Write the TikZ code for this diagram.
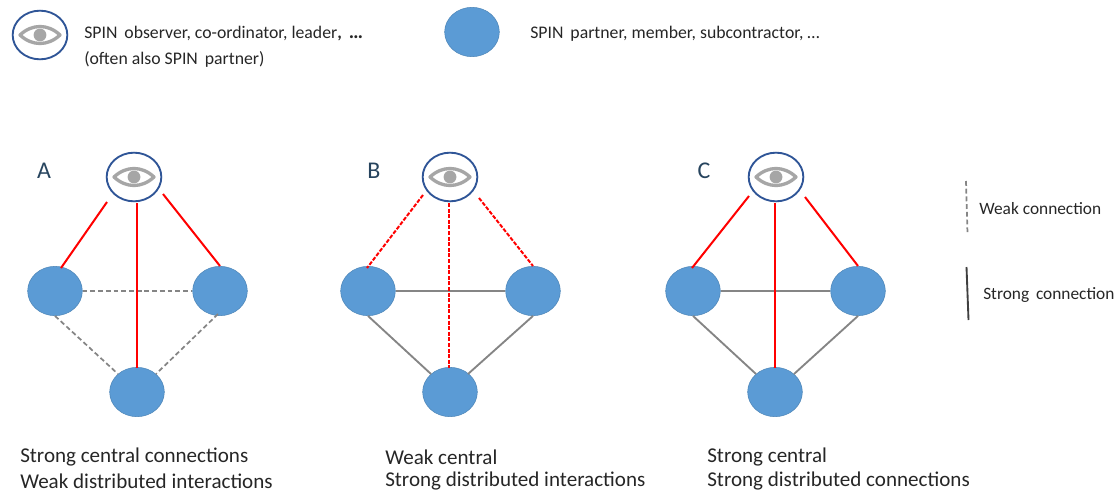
\documentclass[tikz,border=0pt]{standalone}
\usepackage{fontspec}
\setmainfont{Carlito}
\usetikzlibrary{shapes.geometric}
\definecolor{blueF}{HTML}{5B9BD5}
\definecolor{blueE}{HTML}{41719C}
\definecolor{ringC}{HTML}{2F5597}
\definecolor{eyeC}{HTML}{A6A6A6}
\definecolor{lineG}{HTML}{858585}
\definecolor{txtC}{HTML}{262626}
\tikzset{
 x=0.75pt,y=-0.75pt,
 partner/.style={ellipse,draw=blueE!50!blueF,line width=0.4pt,fill=blueF,minimum width=41pt,minimum height=37pt,inner sep=0pt},
 observer/.style={ellipse,draw=ringC,line width=1.4pt,fill=white,minimum width=41pt,minimum height=36.5pt,inner sep=0pt},
 strongred/.style={red,line width=1.5pt},
 weakred/.style={red,line width=1.5pt,dash pattern=on 3pt off 1.2pt},
 stronggrey/.style={lineG,line width=1.4pt},
 weakgrey/.style={lineG,line width=1.3pt,dash pattern=on 3.6pt off 2.2pt},
 small/.style={anchor=west,inner sep=0pt,text=txtC,font=\fontsize{13.3pt}{15pt}\selectfont},
 caption/.style={anchor=west,inner sep=0pt,text=txtC,font=\fontsize{15.8pt}{18pt}\selectfont},
 letter/.style={inner sep=0pt,text=blueE!60!black,font=\fontsize{18pt}{20pt}\selectfont},
 keytext/.style={anchor=west,inner sep=0pt,text=txtC,font=\fontsize{13pt}{15pt}\selectfont},
}
\newcommand{\eyeat}[1]{%
 \draw[eyeC,line width=2.5pt,line join=round] ([xshift=-15pt]#1.center) .. controls ([xshift=-6pt,yshift=8.5pt]#1.center) and ([xshift=6pt,yshift=8.5pt]#1.center) .. ([xshift=15pt]#1.center) .. controls ([xshift=6pt,yshift=-8.5pt]#1.center) and ([xshift=-6pt,yshift=-8.5pt]#1.center) .. cycle;
 \fill[eyeC] (#1.center) circle (4.8pt);}
\begin{document}
\begin{tikzpicture}
\useasboundingbox (0,0) rectangle (1120,492);
% legend
\node[observer] (legO) at (40,35) {};
\eyeat{legO}
\node[partner] (legP) at (472,32) {};
\node[small] (t1) at (84,34) {SPIN\, observer, co-ordinator, leader\textbf{,\, {\fontsize{15pt}{15pt}\selectfont …}}};
\node[small] (t2) at (84,59) {(often also SPIN\, partner)};
\node[small] (t3) at (530,34) {SPIN\, partner, member, subcontractor, …};
% A
\node[observer] (oA) at (134,177) {};
\eyeat{oA}
\node[partner] (lA) at (55,291) {};
\node[partner] (rA) at (220,291) {};
\node[partner] (bA) at (137,392) {};
\node[letter] (nA) at (44,171) {A};
\draw[weakgrey] (lA) -- (rA);
\draw[weakgrey] (lA.south) -- ([shift={(-19,-18)}]bA.center);
\draw[weakgrey] ([shift={(-2,23)}]rA.center) -- ([shift={(19,-18)}]bA.center);
\draw[strongred] ([shift={(-27,25)}]oA.center) -- ([shift={(6,-23)}]lA.center);
\draw[strongred] ([shift={(2.5,26)}]oA.center) -- ([shift={(-0.5,-24)}]bA.center);
\draw[strongred] ([shift={(29,17)}]oA.center) -- ([shift={(0,-25)}]rA.center);
% B
\node[observer] (oB) at (450,177) {};
\eyeat{oB}
\node[partner] (lB) at (368,291) {};
\node[partner] (rB) at (533,291) {};
\node[partner] (bB) at (450,392) {};
\node[letter] (nB) at (374,171) {B};
\draw[stronggrey] (lB) -- (rB);
\draw[stronggrey] (lB.south) -- ([shift={(-19,-18)}]bB.center);
\draw[stronggrey] (rB.south) -- ([shift={(18,-18)}]bB.center);
\draw[weakred] ([shift={(-27,18)}]oB.center) -- ([shift={(-1,-23)}]lB.center);
\draw[weakred] ([shift={(-1,26)}]oB.center) -- ([shift={(-1,-24)}]bB.center);
\draw[weakred] ([shift={(29,21)}]oB.center) -- ([shift={(0,-25)}]rB.center);
% C
\node[observer] (oC) at (776,177) {};
\eyeat{oC}
\node[partner] (lC) at (693,291) {};
\node[partner] (rC) at (858,291) {};
\node[partner] (bC) at (775,392) {};
\node[letter] (nC) at (704,171) {C};
\draw[stronggrey] (lC) -- (rC);
\draw[stronggrey] (lC.south) -- ([shift={(-19,-18)}]bC.center);
\draw[stronggrey] (rC.south) -- ([shift={(19,-18)}]bC.center);
\draw[strongred] ([shift={(-27,19)}]oC.center) -- ([shift={(-1,-23)}]lC.center);
\draw[strongred] ([shift={(-1,26)}]oC.center) -- ([shift={(0,-24)}]bC.center);
\draw[strongred] ([shift={(29,20)}]oC.center) -- ([shift={(0,-25)}]rC.center);
% key
\coordinate (w1) at (966,181);
\coordinate (w2) at (967.5,234);
\coordinate (s1) at (966.5,267);
\coordinate (s2) at (968.5,320);
\draw[weakgrey] (w1) -- (w2);
\draw[black!75,line width=1.4pt] (s1) -- (s2);
\node[keytext] (kw) at (979,209) {Weak connection};
\node[keytext] (ks) at (983,295) {Strong\, connection};
% captions
\node[caption] (cA1) at (20,457) {Strong central connections};
\node[caption] (cA2) at (20,481) {Weak distributed interactions};
\node[caption] (cB1) at (385,457) {Weak central};
\node[caption] (cB2) at (385,481) {Strong distributed interactions};
\node[caption] (cC1) at (707,457) {Strong central};
\node[caption] (cC2) at (707,481) {Strong distributed connections};
\end{tikzpicture}
\end{document}
